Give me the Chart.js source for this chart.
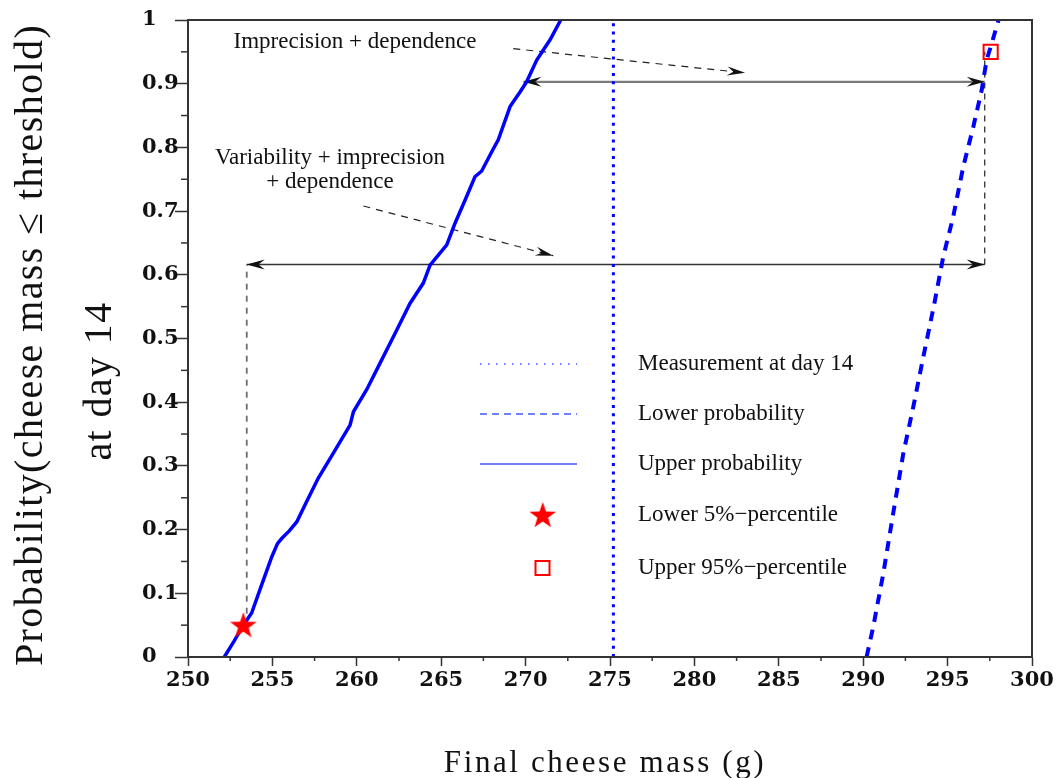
<!DOCTYPE html>
<html>
<head>
<meta charset="utf-8">
<script src="https://cdn.jsdelivr.net/npm/chart.js@4.4.0/dist/chart.umd.min.js"></script>
<style>
  html, body { margin: 0; padding: 0; background: #fff; }
  #wrap { width: 1058px; height: 778px; }
</style>
</head>
<body>
<div id="wrap"><canvas id="chart" width="1058" height="778"></canvas></div>
<script>
// upper probability (solid)
const upperX = [252.15, 252.73, 253.28, 253.77, 254.32, 254.96, 255.3, 255.55, 256.0, 256.44, 257.03, 257.72,
  258.61, 259.6, 259.8, 260.59, 261.37, 262.36, 263.15, 263.94, 264.34, 265.33, 265.82, 266.41,
  267.0, 267.4, 268.05, 268.38, 269.08, 269.67, 270.06, 270.66, 271.05, 271.45, 272.08];
const upperY = [0, 0.025, 0.05, 0.069, 0.11, 0.157, 0.178, 0.186, 0.198, 0.212, 0.244, 0.281,
  0.32, 0.364, 0.385, 0.42, 0.461, 0.513, 0.555, 0.587, 0.615, 0.647, 0.681, 0.717,
  0.754, 0.763, 0.796, 0.812, 0.864, 0.887, 0.903, 0.937, 0.953, 0.969, 1.0];

// lower probability (dashed)
const lowerX = [290.2, 290.6, 291.19, 291.78, 292.38, 292.97, 293.56, 294.2, 294.74, 295.33, 295.93, 296.52, 297.02, 297.31, 297.61, 298.02];
const lowerY = [0, 0.048, 0.131, 0.226, 0.32, 0.393, 0.471, 0.553, 0.628, 0.691, 0.77, 0.832, 0.89, 0.937, 0.963, 1.0];

// measurement at day 14
const measureX = [275.2, 275.2];
const measureY = [0, 1];

// percentiles
const lower5X = [253.28];
const lower5Y = [0.05];
const upper95X = [297.55];
const upper95Y = [0.95];

// annotation geometry (data units)
const wideSpanX = [253.48, 297.2];
const wideSpanY = 0.616;
const narrowSpanX = [269.87, 297.2];
const narrowSpanY = 0.903;
const leftDropY = [0.068, 0.616];
const rightDropY = [0.616, 0.95];
const leaderTopX = [269.27, 283.0];
const leaderTopY = [0.955, 0.917];
const leaderMidX = [260.39, 271.64];
const leaderMidY = [0.708, 0.63];

const noteTop = 'Imprecision + dependence';
const noteMid = ['Variability + imprecision', '+ dependence'];
const legendLabels = ['Measurement at day 14', 'Lower probability', 'Upper probability', 'Lower 5%\u2212percentile', 'Upper 95%\u2212percentile'];
const xTitle = 'Final cheese mass (g)';
const yTitle = ['Probability(cheese mass \u2264 threshold)', 'at day 14'];

const pts = (xs, ys) => xs.map((x, i) => ({ x: x, y: ys[i] }));

function makeStar(r) {
  const c = document.createElement('canvas');
  const s = Math.ceil(r * 2 + 2);
  c.width = s; c.height = s;
  const g = c.getContext('2d');
  g.fillStyle = '#ff0000';
  g.beginPath();
  for (let i = 0; i < 10; i++) {
    const rad = i % 2 === 0 ? r : r * 0.4;
    const a = -Math.PI / 2 + i * Math.PI / 5;
    const px = s / 2 + rad * Math.cos(a), py = s / 2 + 1 + rad * Math.sin(a);
    if (i === 0) g.moveTo(px, py); else g.lineTo(px, py);
  }
  g.closePath();
  g.fill();
  return c;
}
const starImg = makeStar(14);

function arrowHead(ctx, x1, y1, x2, y2, len, half) {
  const a = Math.atan2(y2 - y1, x2 - x1);
  ctx.save();
  ctx.translate(x2, y2);
  ctx.rotate(a);
  ctx.beginPath();
  ctx.moveTo(0, 0);
  ctx.lineTo(-len, -half);
  ctx.lineTo(-len * 0.65, 0);
  ctx.lineTo(-len, half);
  ctx.closePath();
  ctx.fill();
  ctx.restore();
}

function line(ctx, x1, y1, x2, y2, color, width, dash) {
  ctx.save();
  ctx.strokeStyle = color;
  ctx.lineWidth = width;
  ctx.setLineDash(dash || []);
  ctx.beginPath();
  ctx.moveTo(x1, y1);
  ctx.lineTo(x2, y2);
  ctx.stroke();
  ctx.restore();
}

const annotate = {
  id: 'annotate',
  beforeDatasetsDraw(chart) {
    const { ctx, scales: { x, y } } = chart;
    // dashed drops
    const lx = x.getPixelForValue(wideSpanX[0]);
    line(ctx, lx, y.getPixelForValue(leftDropY[0]), lx, y.getPixelForValue(leftDropY[1]), '#6e6e6e', 1.8, [6, 6]);
    const rx = x.getPixelForValue(wideSpanX[1]);
    line(ctx, rx, y.getPixelForValue(rightDropY[0]), rx, y.getPixelForValue(rightDropY[1]), '#222', 1.2, [6, 5]);

    // wide double arrow
    let py = y.getPixelForValue(wideSpanY);
    let a = x.getPixelForValue(wideSpanX[0]), b = x.getPixelForValue(wideSpanX[1]);
    line(ctx, a, py, b, py, '#333', 1.5);
    ctx.fillStyle = '#111';
    arrowHead(ctx, b, py, a, py, 18, 5);
    arrowHead(ctx, a, py, b, py, 18, 5);

    // narrow double arrow
    py = y.getPixelForValue(narrowSpanY);
    a = x.getPixelForValue(narrowSpanX[0]); b = x.getPixelForValue(narrowSpanX[1]);
    line(ctx, a, py, b, py, '#7a7a7a', 2.2);
    ctx.fillStyle = '#111';
    arrowHead(ctx, b, py, a, py, 18, 5);
    arrowHead(ctx, a, py, b, py, 18, 5);

    // leaders
    [[leaderTopX, leaderTopY], [leaderMidX, leaderMidY]].forEach(([lxs, lys]) => {
      const x1 = x.getPixelForValue(lxs[0]), y1 = y.getPixelForValue(lys[0]);
      const x2 = x.getPixelForValue(lxs[1]), y2 = y.getPixelForValue(lys[1]);
      line(ctx, x1, y1, x2, y2, '#222', 1.2, [7, 6]);
      ctx.fillStyle = '#111';
      arrowHead(ctx, x1, y1, x2, y2, 18, 4.5);
    });

    // notes
    ctx.save();
    ctx.fillStyle = '#111';
    ctx.font = '23px "Liberation Serif"';
    ctx.textAlign = 'center';
    ctx.textBaseline = 'middle';
    ctx.fillText(noteTop, x.getPixelForValue(259.89), y.getPixelForValue(0.966));
    ctx.fillText(noteMid[0], x.getPixelForValue(258.41), y.getPixelForValue(0.783));
    ctx.fillText(noteMid[1], x.getPixelForValue(258.41), y.getPixelForValue(0.745));
    ctx.restore();
  },
  afterDraw(chart) {
    const { ctx, chartArea: ca, scales: { x, y } } = chart;
    // frame
    ctx.save();
    ctx.strokeStyle = '#333';
    ctx.lineWidth = 2;
    ctx.strokeRect(ca.left, ca.top, ca.right - ca.left, ca.bottom - ca.top);
    ctx.restore();

    // minor ticks
    for (let v = 252.5; v < 300; v += 5) {
      const px = x.getPixelForValue(v);
      line(ctx, px, ca.bottom, px, ca.bottom + 4, '#333', 1.5);
    }
    for (let v = 0.05; v < 1; v += 0.1) {
      const p = y.getPixelForValue(v);
      line(ctx, ca.left - 7, p, ca.left, p, '#333', 1.5);
    }

    // legend
    const rows = [364, 414, 464, 515, 568];
    const lc = '#4455ff';
    line(ctx, 480, rows[0], 577, rows[0], lc, 1.5, [1.5, 6.5]);
    line(ctx, 480, rows[1], 577, rows[1], lc, 1.5, [7, 5]);
    line(ctx, 480, rows[2], 577, rows[2], lc, 1.5);
    Chart.helpers.drawPoint(ctx, { pointStyle: starImg, radius: 13, rotation: 0 }, 542.7, rows[3]);
    ctx.save();
    ctx.strokeStyle = '#ff0000';
    ctx.lineWidth = 2;
    ctx.strokeRect(535.5, rows[4] - 7, 14, 14);
    ctx.restore();
    ctx.save();
    ctx.fillStyle = '#111';
    ctx.font = '23px "Liberation Serif"';
    ctx.textAlign = 'left';
    ctx.textBaseline = 'middle';
    legendLabels.forEach((t, i) => ctx.fillText(t, 638, rows[i]));
    ctx.restore();

    // axis titles
    ctx.save();
    ctx.fillStyle = '#111';
    ctx.font = '31px "Liberation Serif"';
    ctx.letterSpacing = '2.6px';
    ctx.textAlign = 'center';
    ctx.textBaseline = 'alphabetic';
    ctx.fillText(xTitle, 605, 772);
    ctx.font = '40px "Liberation Serif"';
    ctx.letterSpacing = '1.4px';
    ctx.translate(42, 345);
    ctx.rotate(-Math.PI / 2);
    ctx.fillText(yTitle[0], 0, 0);
    ctx.restore();
    ctx.save();
    ctx.fillStyle = '#111';
    ctx.font = '40px "Liberation Serif"';
    ctx.letterSpacing = '1.4px';
    ctx.textAlign = 'center';
    ctx.translate(111, 381);
    ctx.rotate(-Math.PI / 2);
    ctx.fillText(yTitle[1], 0, 0);
    ctx.restore();
  }
};

const tickFont = { family: 'DejaVu Serif', weight: 'bold', size: 21 };

new Chart(document.getElementById('chart'), {
  type: 'scatter',
  data: {
    datasets: [
      { label: legendLabels[3], data: pts(lower5X, lower5Y), pointStyle: starImg, pointRadius: 14, showLine: false },
      { label: legendLabels[4], data: pts(upper95X, upper95Y), pointStyle: 'rect', pointRadius: 10,
        borderColor: '#ff0000', backgroundColor: 'rgba(0,0,0,0)', borderWidth: 2, showLine: false },
      { label: legendLabels[2], data: pts(upperX, upperY), showLine: true, borderColor: '#0000ff',
        borderWidth: 3.5, pointRadius: 0, tension: 0 },
      { label: legendLabels[1], data: pts(lowerX, lowerY), showLine: true, borderColor: '#0000ff',
        borderWidth: 4, borderDash: [10, 8], pointRadius: 0, tension: 0 },
      { label: legendLabels[0], data: pts(measureX, measureY), showLine: true, borderColor: '#0000ff',
        borderWidth: 3, borderDash: [3, 5.3], pointRadius: 0 }
    ]
  },
  options: {
    responsive: false,
    animation: false,
    devicePixelRatio: 1,
    events: [],
    layout: { padding: { left: 142, right: 26, top: 20, bottom: 0 } },
    scales: {
      x: {
        type: 'linear', min: 250, max: 300,
        ticks: { stepSize: 5, font: tickFont, color: '#111', padding: 2, maxRotation: 0, autoSkip: false },
        grid: { drawOnChartArea: false, tickLength: 9, tickColor: '#333', tickWidth: 1.5 },
        border: { color: '#333', width: 2 },
        afterFit(s) { s.height = 121; }
      },
      y: {
        type: 'linear', min: 0, max: 1,
        ticks: { stepSize: 0.1, font: tickFont, color: '#111', padding: 0, crossAlign: 'far',
          callback: (v) => String(Math.round(v * 10) / 10) },
        grid: { drawOnChartArea: false, tickLength: 13, tickColor: '#333', tickWidth: 1.5 },
        border: { color: '#333', width: 2 },
        afterFit(s) { s.width = 46; }
      }
    },
    plugins: { legend: { display: false }, tooltip: { enabled: false } }
  },
  plugins: [annotate]
});
</script>
</body>
</html>
